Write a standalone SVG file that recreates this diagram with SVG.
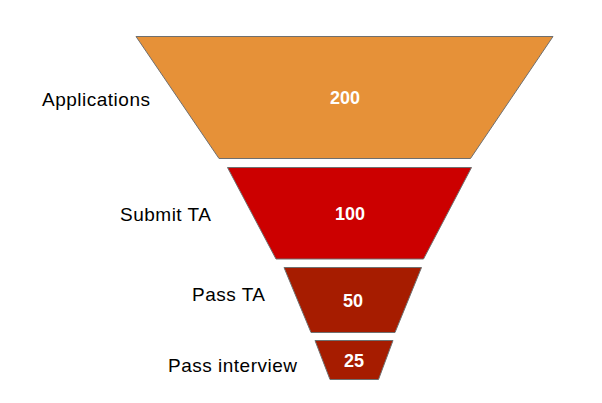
<svg xmlns="http://www.w3.org/2000/svg" width="602" height="403" viewBox="0 0 602 403">
<style>
.seg{stroke:#6f6f6f;stroke-width:1}
.num{font-family:"Liberation Sans",Arial,sans-serif;font-weight:bold;font-size:18px;fill:#ffffff;text-anchor:middle}
.lbl{font-family:"Liberation Sans",Arial,sans-serif;font-size:19px;fill:#000000;letter-spacing:0.5px}
</style>
<rect width="602" height="403" fill="#ffffff"/>
<g id="applications">
<polygon class="seg" fill="#e69138" points="136,36.5 553,36.5 470.5,158.5 219,158.5"/>
<text class="num" x="345" y="104">200</text>
<text class="lbl" x="42" y="106">Applications</text>
</g>
<g id="submit-ta">
<polygon class="seg" fill="#cc0000" points="227.5,167.5 471.5,167.5 423.5,259 276,259"/>
<text class="num" x="350" y="220">100</text>
<text class="lbl" x="120" y="221">Submit TA</text>
</g>
<g id="pass-ta">
<polygon class="seg" fill="#a61c00" points="284,267.5 421.5,267.5 395,332.5 311,332.5"/>
<text class="num" x="353" y="307">50</text>
<text class="lbl" x="192" y="301">Pass TA</text>
</g>
<g id="pass-interview">
<polygon class="seg" fill="#a61c00" points="315,340.5 393,340.5 378.5,379.5 330,379.5"/>
<text class="num" x="354" y="367">25</text>
<text class="lbl" x="168" y="372">Pass interview</text>
</g>
<g id="connectors"></g>
</svg>
